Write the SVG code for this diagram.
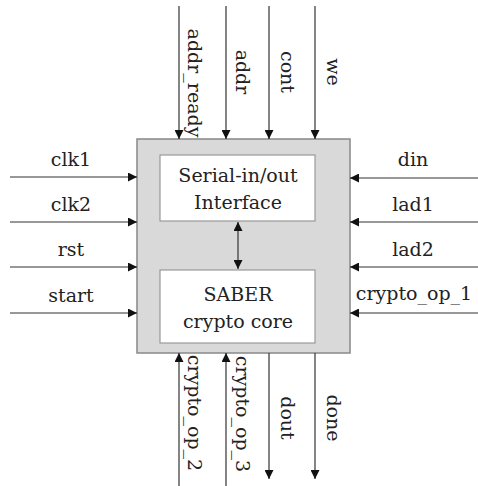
<svg xmlns="http://www.w3.org/2000/svg" width="478" height="486" viewBox="0 0 478 486">
<defs>
<marker id="ah" viewBox="0 0 10 10" refX="10" refY="5" markerWidth="9" markerHeight="9" markerUnits="userSpaceOnUse" orient="auto-start-reverse">
<path d="M0,0 L10,5 L0,10 Z" fill="#111"/>
</marker>
</defs>
<style>
text{font-family:"DejaVu Serif","Liberation Serif",serif;font-size:19px;fill:#222;text-anchor:middle}
.c line{stroke:#333;stroke-width:1.2;marker-end:url(#ah)}
.outer{fill:#d9d9d9;stroke:#888;stroke-width:1.5}
.inner{fill:#fff;stroke:#999;stroke-width:1.2}
</style>
<rect width="478" height="486" fill="#fff"/>
<g id="top">
<rect class="outer" x="137" y="139" width="213" height="214"/>
</g>
<g id="serial">
<rect class="inner" x="160" y="155" width="155" height="66"/>
<text x="238" y="182">Serial-in/out</text>
<text x="238" y="209">Interface</text>
</g>
<g id="saber">
<rect class="inner" x="160" y="270" width="155" height="73"/>
<text x="238" y="301">SABER</text>
<text x="238" y="328">crypto core</text>
</g>
<g class="c" id="connectors">
<line x1="238" y1="222" x2="238" y2="269" style="marker-start:url(#ah)"/>
<line x1="179" y1="6" x2="179" y2="139"/>
<line x1="226" y1="6" x2="226" y2="139"/>
<line x1="269" y1="6" x2="269" y2="139"/>
<line x1="315" y1="6" x2="315" y2="139"/>
<line x1="179" y1="486" x2="179" y2="353"/>
<line x1="226" y1="486" x2="226" y2="353"/>
<line x1="269" y1="353" x2="269" y2="479"/>
<line x1="315" y1="353" x2="315" y2="479"/>
<line x1="10" y1="177" x2="137" y2="177"/>
<line x1="10" y1="222" x2="137" y2="222"/>
<line x1="10" y1="267" x2="137" y2="267"/>
<line x1="10" y1="313" x2="137" y2="313"/>
<line x1="478" y1="178" x2="350" y2="178"/>
<line x1="478" y1="222" x2="350" y2="222"/>
<line x1="478" y1="267" x2="350" y2="267"/>
<line x1="478" y1="313" x2="350" y2="313"/>
</g>
<g id="labels">
<text x="71" y="166">clk1</text>
<text x="71" y="211">clk2</text>
<text x="71" y="256">rst</text>
<text x="71" y="302">start</text>
<text x="413" y="166">din</text>
<text x="413" y="211">lad1</text>
<text x="413" y="256">lad2</text>
<text x="414" y="300">crypto_op_1</text>
<text transform="translate(188,83) rotate(90)">addr_ready</text>
<text transform="translate(236,72) rotate(90)">addr</text>
<text transform="translate(281,72) rotate(90)">cont</text>
<text transform="translate(327,72) rotate(90)">we</text>
<text transform="translate(188,413) rotate(90)">crypto_op_2</text>
<text transform="translate(236,414) rotate(90)">crypto_op_3</text>
<text transform="translate(281,418) rotate(90)">dout</text>
<text transform="translate(327,418) rotate(90)">done</text>
</g>
</svg>
